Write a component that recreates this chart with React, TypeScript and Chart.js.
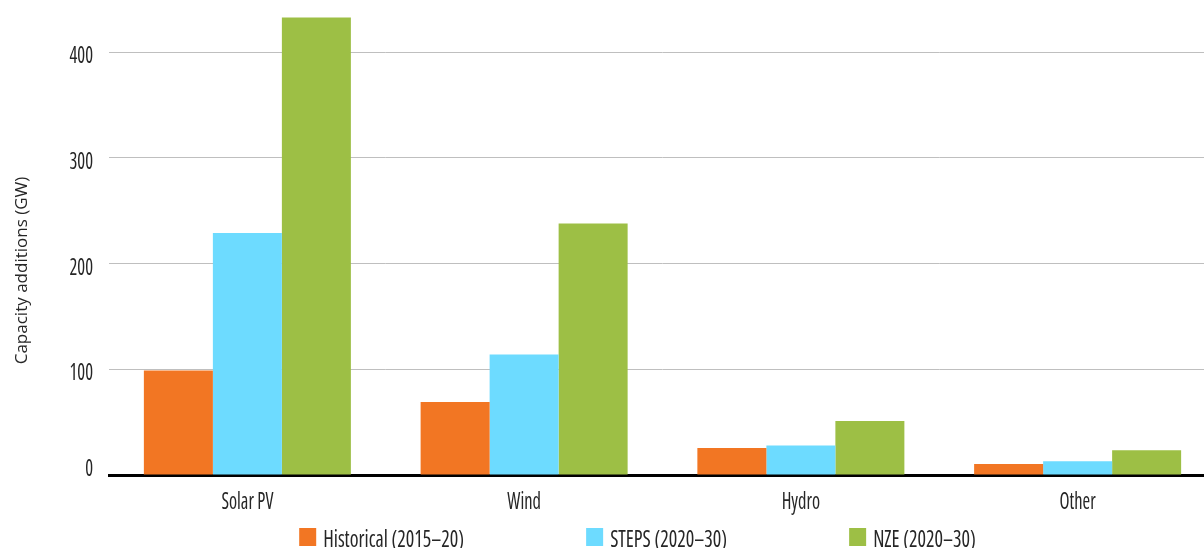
import React, { useEffect, useRef } from "react";
import { Chart, registerables } from "chart.js";

Chart.register(...registerables);

const categories = ["Solar PV", "Wind", "Hydro", "Other"];
const historical = [99, 69, 25.5, 10.5];
const steps = [229, 114, 28, 13];
const nze = [433, 238, 51, 23.5];
const seriesLabels = ["Historical (2015–20)", "STEPS (2020–30)", "NZE (2020–30)"];
const seriesColors = ["#F27623", "#6DDBFF", "#9DBF45"];
const yTitle = "Capacity additions (GW)";
const yMax = 440;
const yStep = 100;

const FAMILY = "'Open Sans', sans-serif";
const COND = `condensed 23px ${FAMILY}`;
const TEXT = "#262626";

function drawScaled(ctx: CanvasRenderingContext2D, text: string, x: number, y: number, sx: number, align: "left" | "center" | "right") {
  ctx.save();
  ctx.translate(x, y);
  ctx.scale(sx, 1);
  ctx.textAlign = align;
  ctx.fillText(text, 0, 0);
  ctx.restore();
}

const overlayPlugin = {
  id: "overlay",
  afterDraw(chart: any) {
    const ctx: CanvasRenderingContext2D = chart.ctx;
    const ca = chart.chartArea;
    ctx.save();
    ctx.fillStyle = TEXT;
    ctx.textBaseline = "alphabetic";
    ctx.font = COND;

    // x tick labels
    const xs = chart.scales.x;
    categories.forEach((c, i) => {
      drawScaled(ctx, c, xs.getPixelForValue(i), ca.bottom + 34, 0.8, "center");
    });

    // y tick labels
    const ys = chart.scales.y;
    ys.ticks.forEach((t: any) => {
      const py = ys.getPixelForValue(t.value);
      const base = Math.min(py + 11, ca.bottom + 1);
      drawScaled(ctx, String(t.value), ca.left - 16, base, 0.8, "right");
    });

    // legend
    const sxL = 0.87;
    const box = 17;
    const gap = 7;
    const itemGap = 122;
    const widths = seriesLabels.map((t) => ctx.measureText(t).width * sxL);
    const total = widths.reduce((a, w) => a + box + gap + w, 0) + itemGap * (seriesLabels.length - 1);
    let x = chart.width / 2 - total / 2;
    const baseY = chart.height - 1;
    seriesLabels.forEach((t, i) => {
      ctx.fillStyle = seriesColors[i];
      ctx.fillRect(x, baseY - 19, box, 18);
      ctx.fillStyle = TEXT;
      drawScaled(ctx, t, x + box + gap, baseY, sxL, "left");
      x += box + gap + widths[i] + itemGap;
    });

    // y title
    ctx.font = `17px ${FAMILY}`;
    ctx.translate(27, (ca.top + ca.bottom) / 2 + 28);
    ctx.rotate(-Math.PI / 2);
    ctx.textAlign = "center";
    ctx.fillText(yTitle, 0, 0);
    ctx.restore();
  },
};

export default function App() {
  const ref = useRef<HTMLCanvasElement>(null);
  useEffect(() => {
    document.body.style.margin = "0";
    Chart.defaults.font.family = FAMILY;
    Chart.defaults.color = TEXT;
    const values = [historical, steps, nze];
    const chart = new Chart(ref.current as HTMLCanvasElement, {
      type: "bar",
      data: {
        labels: categories,
        datasets: seriesLabels.map((label, i) => ({
          label,
          data: values[i],
          backgroundColor: seriesColors[i],
          borderWidth: 0,
          categoryPercentage: 0.748,
          barPercentage: 1.0,
        })),
      },
      options: {
        responsive: false,
        animation: false,
        layout: { padding: { top: 10, right: 59, bottom: 38, left: 0 } },
        plugins: { legend: { display: false }, tooltip: { enabled: false } },
        scales: {
          x: {
            grid: { display: false, drawTicks: false },
            border: { color: "#000000", width: 3 },
            ticks: { display: false },
            afterFit: (s: any) => {
              s.height = 35;
              s.paddingLeft = 0;
              s.paddingRight = 0;
            },
          },
          y: {
            min: 0,
            max: yMax,
            grid: {
              color: (c: any) => (c.tick && c.tick.value === 0 ? "rgba(0,0,0,0)" : "#BFBFBF"),
              lineWidth: 1,
              drawTicks: false,
            },
            border: { display: false },
            ticks: { stepSize: yStep, includeBounds: false, display: false },
            afterFit: (s: any) => {
              s.width = 109;
              s.paddingTop = 0;
              s.paddingBottom = 0;
            },
          },
        },
      },
      plugins: [overlayPlugin],
    });
    return () => chart.destroy();
  }, []);
  return (
    <div style={{ width: 1204, height: 548, overflow: "hidden" }}>
      <canvas ref={ref} width={1275} height={548} style={{ display: "block" }} />
    </div>
  );
}
